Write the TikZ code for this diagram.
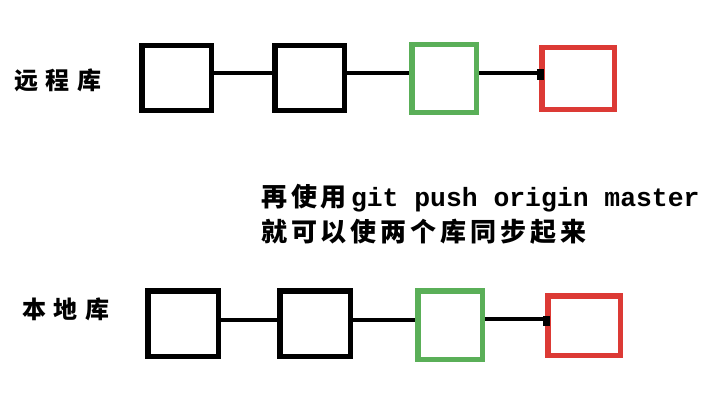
\documentclass[tikz,border=0pt]{standalone}
\usepackage{fontspec}
\newfontfamily\cjklabel[LetterSpace=32]{Noto Sans CJK SC}
\newfontfamily\cjktext[LetterSpace=15]{Noto Sans CJK SC}
\newfontfamily\monotext{Liberation Mono}
\definecolor{boxgreen}{HTML}{5AAF58}
\definecolor{boxred}{HTML}{DC3A35}
\tikzset{
  commit/.style={draw=black, line width=5.5pt, rectangle, inner sep=0pt, fill=white},
  link/.style={draw=black, line width=4.8pt},
  lbl/.style={anchor=base west, inner sep=0pt, font=\cjklabel\bfseries\fontsize{24}{28}\selectfont},
  txt/.style={anchor=base west, inner sep=0pt, font=\fontsize{26}{30}\selectfont}
}
\begin{document}
\begin{tikzpicture}[x=1pt,y=-1pt]
\useasboundingbox (0,0) rectangle (726,412);
% top row (remote)
\node[commit, minimum width=69.5pt, minimum height=64.5pt] (A1) at (176.5,78) {};
\node[commit, minimum width=69.5pt, minimum height=64.5pt] (A2) at (309.5,78) {};
\node[commit, draw=boxgreen, minimum width=64.5pt, minimum height=67.5pt] (A3) at (444,78.5) {};
\node[commit, draw=boxred, minimum width=72.5pt, minimum height=61.5pt] (A4) at (578,78.5) {};
\draw[link] ([yshift=5pt]A1.east) -- ([yshift=5pt]A2.west);
\draw[link] ([yshift=5pt]A2.east) -- ([yshift=5.5pt]A3.west);
\draw[link] ([yshift=5.5pt]A3.east) -- ([yshift=5.5pt]A4.west);
\fill[black] (537,69) rectangle (544,80);
% bottom row (local)
\node[commit, minimum width=70.5pt, minimum height=65.5pt] (B1) at (183,323.5) {};
\node[commit, minimum width=70.5pt, minimum height=65.5pt] (B2) at (315,323.5) {};
\node[commit, draw=boxgreen, minimum width=64.5pt, minimum height=68.5pt] (B3) at (450,325) {};
\node[commit, draw=boxred, minimum width=72.5pt, minimum height=59.5pt] (B4) at (584,325.5) {};
\draw[link] ([yshift=3.5pt]B1.east) -- ([yshift=3.5pt]B2.west);
\draw[link] ([yshift=3.5pt]B2.east) -- ([yshift=5pt]B3.west);
\draw[link] ([yshift=6pt]B3.east) -- ([yshift=6.5pt]B4.west);
\fill[black] (543,316) rectangle (550,326);
% labels
\node[lbl] (remote) at (14,90) {远程库};
\node[lbl] (local) at (22,318) {本地库};
\node[txt] (line1) at (261,206) {\cjktext\bfseries 再使用\kern4pt\monotext\bfseries\fontsize{26.4}{30}\selectfont git push origin master};
\node[txt] (line2) at (261,241) {\cjktext\bfseries 就可以使两个库同步起来};
\end{tikzpicture}
\end{document}
